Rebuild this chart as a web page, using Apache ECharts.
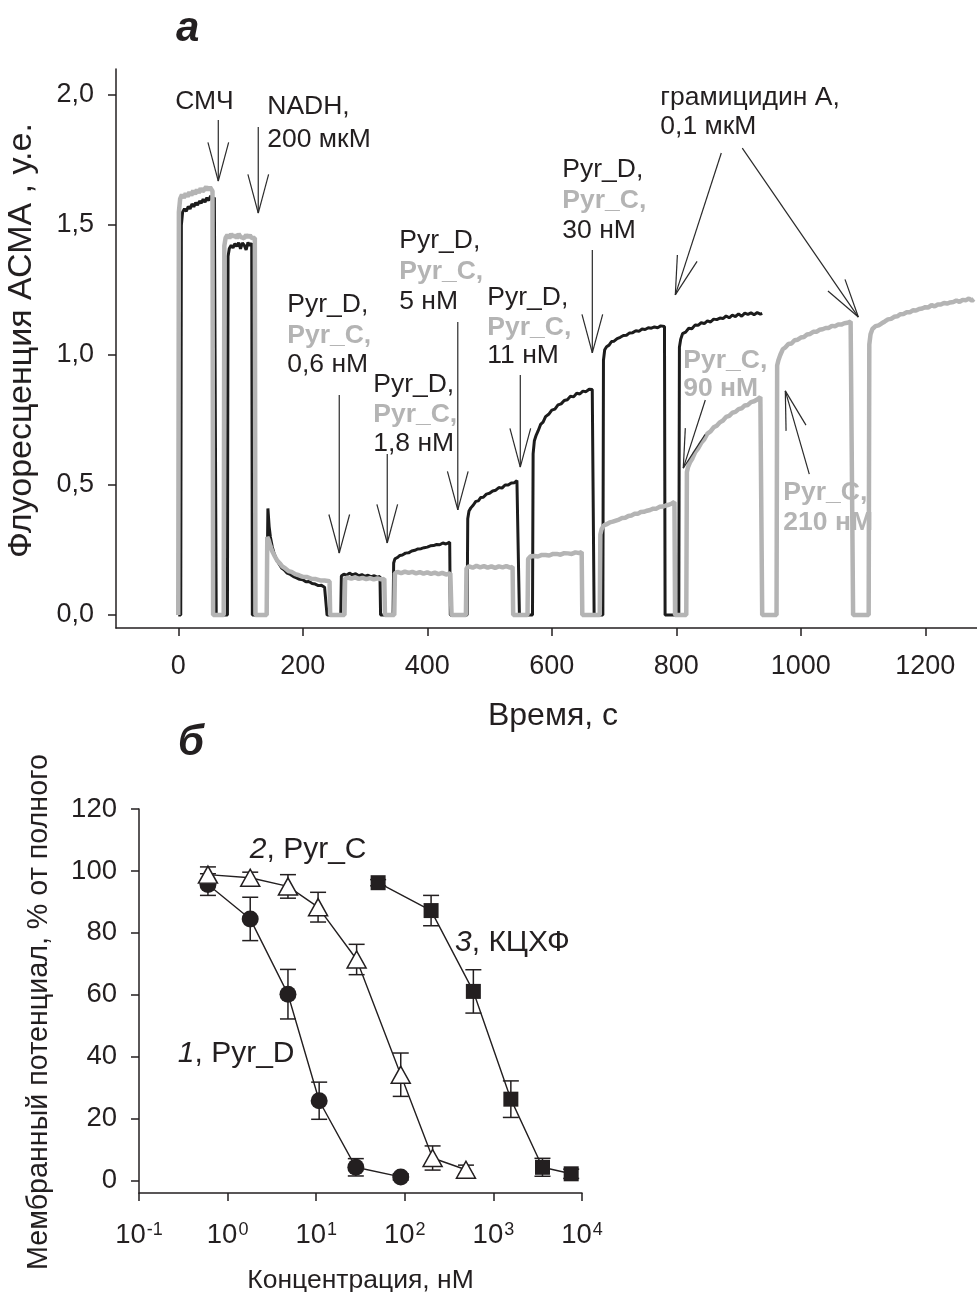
<!DOCTYPE html>
<html><head><meta charset="utf-8">
<script src="https://cdn.jsdelivr.net/npm/echarts@6/dist/echarts.min.js"></script>
<style>html,body{margin:0;padding:0;background:#fff}#c{width:977px;height:1292px}</style>
</head><body><div id="c"></div>
<script>
// ---------- Panel a: ACMA fluorescence traces (time s, value a.u.) ----------
const pyrDTrace = [[0,0],[4,0],[5,1.50],[7,1.55],[10,1.562],[13,1.553],[16,1.571],[19,1.562],[22,1.581],[25,1.570],[28,1.586],[31,1.576],[34,1.592],[37,1.584],[40,1.599],[43,1.588],[46,1.605],[49,1.594],[52,1.612],[55,1.598],[58,1.606],[60,1.60],[61,0],[79,0],[80,1.38],[82,1.41],[85,1.422],[88,1.412],[91,1.428],[94,1.418],[97,1.432],[100,1.408],[103,1.431],[106,1.422],[109,1.404],[112,1.433],[115,1.421],[118,1.43],[119,0],
[142,0],[144,0.41],[146,0.34],[148,0.30],[151,0.262],[154,0.236],[158,0.212],[162,0.196],[166,0.181],[170,0.174],[175,0.161],[180,0.156],[185,0.148],[190,0.143],[195,0.137],[200,0.136],[205,0.128],[210,0.129],[215,0.121],[220,0.119],[225,0.113],[230,0.114],[235,0.107],[238,0.106],[239,0],
[261,0],[262,0.15],[266,0.157],[270,0.153],[275,0.161],[280,0.154],[285,0.159],[290,0.151],[295,0.155],[300,0.149],[305,0.153],[310,0.147],[315,0.151],[320,0.145],[324,0.148],[325,0],
[345,0],[346,0.20],[348,0.216],[352,0.221],[356,0.229],[360,0.231],[365,0.238],[370,0.239],[375,0.246],[380,0.249],[385,0.254],[390,0.255],[395,0.259],[400,0.261],[405,0.266],[410,0.267],[415,0.271],[420,0.270],[425,0.277],[430,0.273],[436,0.28],[437,0],
[464,0],[465,0.37],[467,0.40],[470,0.412],[474,0.423],[478,0.437],[482,0.439],[486,0.452],[490,0.453],[495,0.465],[500,0.468],[505,0.477],[510,0.480],[515,0.490],[520,0.488],[525,0.500],[530,0.500],[535,0.508],[540,0.509],[544,0.517],[547,0.52],[548,0],
[569,0],[570,0.62],[572,0.67],[575,0.692],[578,0.708],[582,0.733],[586,0.742],[590,0.763],[595,0.772],[600,0.788],[605,0.792],[610,0.808],[615,0.812],[620,0.825],[625,0.828],[630,0.841],[635,0.839],[640,0.853],[645,0.850],[650,0.861],[655,0.859],[660,0.868],[665,0.867],[667,0.874],[668,0],
[682,0],[683,0.98],[685,1.02],[688,1.032],[692,1.038],[696,1.052],[700,1.053],[705,1.063],[710,1.068],[715,1.075],[720,1.076],[725,1.085],[730,1.086],[735,1.093],[740,1.091],[745,1.100],[750,1.098],[755,1.105],[760,1.103],[765,1.108],[770,1.105],[775,1.112],[781,1.11],[782,0],
[804,0],[805,1.03],[807,1.06],[810,1.082],[815,1.088],[820,1.103],[825,1.101],[830,1.115],[835,1.114],[840,1.124],[845,1.121],[850,1.131],[855,1.127],[860,1.138],[865,1.136],[870,1.142],[875,1.140],[880,1.150],[885,1.143],[890,1.153],[895,1.148],[900,1.158],[905,1.149],[910,1.161],[915,1.156],[920,1.162],[925,1.155],[930,1.163],[935,1.157],[938,1.16]];

const pyrCTrace = [[0,0],[1,1.55],[3,1.60],[6,1.617],[9,1.604],[12,1.622],[15,1.609],[18,1.627],[21,1.614],[24,1.632],[27,1.619],[30,1.636],[33,1.624],[36,1.641],[39,1.629],[42,1.637],[45,1.647],[48,1.634],[51,1.646],[54,1.64],[55,1.63],[56,0],[73,0],[74,1.42],[76,1.45],[79,1.462],[82,1.449],[85,1.466],[88,1.454],[91,1.462],[94,1.449],[97,1.466],[100,1.454],[103,1.461],[106,1.449],[109,1.462],[112,1.453],[115,1.461],[118,1.450],[121,1.456],[123,1.45],[124,0],
[142,0],[143,0.30],[145,0.29],[148,0.265],[151,0.245],[155,0.226],[159,0.209],[163,0.199],[167,0.187],[172,0.179],[177,0.169],[182,0.166],[188,0.157],[194,0.153],[200,0.147],[207,0.146],[214,0.139],[221,0.138],[228,0.133],[235,0.133],[243,0.13],[244,0],
[267,0],[268,0.14],[272,0.144],[278,0.140],[284,0.145],[290,0.139],[296,0.143],[302,0.138],[308,0.142],[314,0.137],[320,0.141],[326,0.137],[331,0.139],[332,0],
[347,0],[348,0.16],[352,0.166],[358,0.161],[364,0.167],[370,0.162],[376,0.166],[382,0.160],[388,0.165],[394,0.159],[400,0.164],[406,0.158],[412,0.163],[418,0.157],[424,0.162],[430,0.156],[437,0.16],[439,0],
[462,0],[463,0.18],[467,0.187],[473,0.182],[479,0.189],[485,0.183],[491,0.188],[497,0.182],[503,0.187],[509,0.181],[515,0.187],[521,0.183],[527,0.188],[533,0.182],[537,0.185],[538,0],
[561,0],[562,0.215],[566,0.226],[572,0.227],[578,0.225],[584,0.231],[590,0.231],[596,0.229],[602,0.235],[608,0.235],[614,0.232],[620,0.238],[626,0.237],[632,0.235],[638,0.241],[644,0.238],[648,0.242],[649,0],
[677,0],[678,0.31],[680,0.33],[684,0.346],[688,0.349],[693,0.356],[698,0.359],[703,0.363],[708,0.367],[713,0.373],[718,0.374],[723,0.381],[728,0.383],[733,0.389],[738,0.389],[743,0.396],[748,0.397],[753,0.401],[758,0.404],[763,0.409],[768,0.409],[773,0.416],[778,0.417],[783,0.421],[788,0.424],[793,0.429],[797,0.435],[798,0],
[816,0],[817,0.55],[819,0.57],[822,0.587],[826,0.603],[830,0.625],[835,0.641],[840,0.662],[845,0.676],[850,0.698],[855,0.706],[860,0.722],[865,0.728],[870,0.741],[875,0.748],[880,0.762],[885,0.766],[890,0.778],[895,0.781],[900,0.792],[905,0.795],[910,0.806],[915,0.808],[920,0.819],[925,0.822],[930,0.829],[935,0.838],[937,0.84],[938,0],
[961,0],[962,0.96],[964,0.98],[967,1.0],[971,1.022],[975,1.029],[980,1.042],[985,1.044],[990,1.057],[995,1.059],[1000,1.067],[1005,1.069],[1010,1.079],[1015,1.081],[1020,1.089],[1025,1.089],[1030,1.097],[1035,1.099],[1040,1.104],[1045,1.104],[1050,1.112],[1055,1.111],[1060,1.117],[1065,1.117],[1070,1.122],[1075,1.124],[1080,1.129],[1083,1.13],[1084,0],
[1109,0],[1110,1.04],[1112,1.08],[1115,1.10],[1120,1.111],[1125,1.114],[1130,1.122],[1135,1.129],[1140,1.137],[1145,1.139],[1150,1.147],[1155,1.149],[1160,1.157],[1165,1.158],[1170,1.164],[1175,1.164],[1180,1.172],[1185,1.171],[1190,1.177],[1195,1.179],[1200,1.184],[1205,1.183],[1210,1.192],[1215,1.187],[1220,1.194],[1225,1.194],[1230,1.200],[1235,1.198],[1240,1.202],[1245,1.204],[1250,1.210],[1255,1.204],[1260,1.212],[1265,1.211],[1270,1.217],[1275,1.209],[1278,1.215]];

const topXTicks = [0,200,400,600,800,1000,1200];
const topXLabels = ['0','200','400','600','800','1000','1200'];
const topYTicks = [0,0.5,1,1.5,2];
const topYLabels = ['0,0','0,5','1,0','1,5','2,0'];

// annotation arrows: [tail t, tail v, tip t, tip v]
const arrows = [[64.3,1.904,64.3,1.669],[128.5,1.877,128.5,1.546],[258.6,0.846,258.6,0.238],[335.7,0.619,335.7,0.277],[449.0,1.127,449.0,0.404],[549.4,0.923,549.4,0.569],[665.1,1.404,665.1,1.008],[872.3,1.777,798.4,1.231],[906.0,1.796,1092.4,1.146],[846.6,0.827,811.2,0.565],[1013.6,0.542,975.1,0.862]];
// annotation text lines: text, left t, centre v, gray(1)/black(0)
const annoText = ['СМЧ','NADH,','200 мкМ','Pyr_D,','Pyr_C,','0,6 нМ','Pyr_D,','Pyr_C,','1,8 нМ','Pyr_D,','Pyr_C,','5 нМ','Pyr_D,','Pyr_C,','11 нМ','Pyr_D,','Pyr_C,','30 нМ','грамицидин А,','0,1 мкМ','Pyr_C,','90 нМ','Pyr_C,','210 нМ'];
const annoT = [-4.8,143.0,143.0,175.1,175.1,175.1,313.2,313.2,313.2,355.0,355.0,355.0,496.4,496.4,496.4,616.9,616.9,616.9,774.3,774.3,811.2,811.2,971.9,971.9];
const annoV = [1.975,1.956,1.829,1.192,1.073,0.962,0.887,0.769,0.660,1.438,1.321,1.206,1.221,1.106,0.996,1.712,1.592,1.477,1.990,1.879,0.977,0.869,0.471,0.356];
const annoGray = [0,0,0,0,1,0,0,1,0,0,1,0,0,1,0,0,1,0,0,0,1,1,1,1];

// ---------- Panel b: membrane potential vs concentration ----------
const concD = [0.6,1.8,4.8,10.8,28,90];
const valD = [95.6,84.5,60.2,25.8,4.3,1.2];
const errD = [3.5,7,8,6,2.8,1];
const concC = [0.6,1.8,4.8,10.5,28.6,90,206,490];
const valC = [98.8,97.8,95,88.3,71.4,34.2,7.3,3.5];
const errC = [2.5,1.8,3.8,4.8,4.9,7,3.9,1.5];
const concK = [50,198,594,1574,3580,7550];
const valK = [96.2,87.2,61.1,26.3,4.3,2.2];
const errK = [1,4.9,7,5.9,2.9,1.5];
const botXTicks = [0.1,1,10,100,1000,10000];
const botXExp = ['-1','0','1','2','3','4'];
const botYTicks = [0,20,40,60,80,100,120];
const curveLabels = [['2',', Pyr_C'],['3',', КЦХФ'],['1',', Pyr_D']];
const curveLabelPos = [[1.78,106.8],[369,76.8],[0.274,41]];

// ---------- styles ----------
const FONT = 'Liberation Sans, Arial, sans-serif';
const INK = '#231f20';
const GRAY = '#b4b4b4';
const FS_ANNO = 26.5, FS_TOPTICK = 27, FS_TOPTITLE = 32, FS_TOPYTITLE = 34;
const FS_BOTTICK = 27.5, FS_BOTLAB = 30, FS_BOTYTITLE = 28.7, FS_BOTXTITLE = 26.5;

function nearestLabel(v, ticks, labels){
  let best = 0, bd = Infinity;
  ticks.forEach((t,i)=>{const d=Math.abs(t-v); if(d<bd){bd=d;best=i;}});
  return labels[best];
}

const axisCommon = {
  axisLine:{show:true,onZero:false,lineStyle:{color:INK,width:1.5}},
  axisTick:{show:true,inside:false,length:8,lineStyle:{color:INK,width:1.5}},
  splitLine:{show:false}
};

const pairs = (xs,ys)=>xs.map((x,i)=>[x,ys[i]]);
const errData = (xs,ys,es)=>xs.map((x,i)=>[x,ys[i],es[i]]);

const chart = echarts.init(document.getElementById('c'),null,{renderer:'canvas'});
chart.setOption({
  animation:false,
  backgroundColor:'#fff',
  grid:[
    {left:116,right:0,top:69,bottom:664,containLabel:false,outerBoundsMode:'none'},
    {left:139,width:443,top:809,height:384,containLabel:false,outerBoundsMode:'none'}
  ],
  xAxis:[
    Object.assign({},axisCommon,{gridIndex:0,type:'value',min:-100,max:1283,
      axisTick:Object.assign({},axisCommon.axisTick,{customValues:topXTicks}),
      axisLabel:{customValues:topXTicks,fontFamily:FONT,fontSize:FS_TOPTICK,color:INK,margin:25,
        formatter:(v)=>nearestLabel(v,topXTicks,topXLabels)},
      name:'Время, с',nameLocation:'middle',nameGap:72,
      nameTextStyle:{fontFamily:FONT,fontSize:FS_TOPTITLE,color:INK,padding:[0,0,0,13]}}),
    Object.assign({},axisCommon,{gridIndex:1,type:'log',logBase:10,min:0.1,max:10000,
      axisTick:Object.assign({},axisCommon.axisTick,{customValues:botXTicks}),
      axisLabel:{customValues:botXTicks,fontFamily:FONT,fontSize:FS_BOTTICK,color:INK,margin:28,
        formatter:(v)=>'10{sup|'+nearestLabel(Math.log10(v),[-1,0,1,2,3,4],botXExp)+'}',
        rich:{sup:{fontFamily:FONT,fontSize:18,color:INK,verticalAlign:'top',padding:[0,0,10,1]}}},
      name:'Концентрация, нМ',nameLocation:'middle',nameGap:74,
      nameTextStyle:{fontFamily:FONT,fontSize:FS_BOTXTITLE,color:INK}})
  ],
  yAxis:[
    Object.assign({},axisCommon,{gridIndex:0,type:'value',min:-0.05,max:2.1,
      axisTick:Object.assign({},axisCommon.axisTick,{customValues:topYTicks}),
      axisLabel:{customValues:topYTicks,fontFamily:FONT,fontSize:FS_TOPTICK,color:INK,margin:22,
        formatter:(v)=>nearestLabel(v,topYTicks,topYLabels)},
      name:'Флуоресценция АСМА , у.е.',nameLocation:'middle',nameGap:77,
      nameTextStyle:{fontFamily:FONT,fontSize:FS_TOPYTITLE,color:INK,padding:[0,0,0,16]}}),
    Object.assign({},axisCommon,{gridIndex:1,type:'value',min:-4,max:120,
      axisTick:Object.assign({},axisCommon.axisTick,{customValues:botYTicks}),
      axisLabel:{customValues:botYTicks,fontFamily:FONT,fontSize:FS_BOTTICK,color:INK,margin:22},
      name:'Мембранный потенциал, % от полного',nameLocation:'middle',nameGap:85,
      nameTextStyle:{fontFamily:FONT,fontSize:FS_BOTYTITLE,color:INK,padding:[0,22,0,0]}})
  ],
  graphic:[
    {type:'text',left:176,top:8,style:{text:'а',font:'italic bold 42px '+FONT,fill:INK}},
    {type:'text',left:178,top:722,style:{text:'б',font:'italic bold 42px '+FONT,fill:INK}}
  ],
  series:[
    {type:'line',name:'Pyr_D',xAxisIndex:0,yAxisIndex:0,data:pyrDTrace,showSymbol:false,
      lineStyle:{color:'#1c1c1c',width:3},z:2},
    {type:'line',name:'Pyr_C',xAxisIndex:0,yAxisIndex:0,data:pyrCTrace,showSymbol:false,
      lineStyle:{color:GRAY,width:4.5},z:3},
    {type:'custom',name:'arrows',xAxisIndex:0,yAxisIndex:0,data:arrows,z:5,
      encode:{x:[0,2],y:[1,3]},
      renderItem:(params,api)=>{
        const a = api.coord([api.value(0),api.value(1)]);
        const b = api.coord([api.value(2),api.value(3)]);
        let dx=a[0]-b[0], dy=a[1]-b[1]; const L=Math.hypot(dx,dy); dx/=L; dy/=L;
        const th=15*Math.PI/180, al=40;
        const arm=(s)=>{const c=Math.cos(s*th), sn=Math.sin(s*th);
          return [b[0]+al*(dx*c-dy*sn), b[1]+al*(dx*sn+dy*c)];};
        const p=arm(1), q=arm(-1);
        const st={stroke:'#2a2a2a',lineWidth:1.2};
        return {type:'group',children:[
          {type:'line',shape:{x1:a[0],y1:a[1],x2:b[0],y2:b[1]},style:st},
          {type:'line',shape:{x1:p[0],y1:p[1],x2:b[0],y2:b[1]},style:st},
          {type:'line',shape:{x1:q[0],y1:q[1],x2:b[0],y2:b[1]},style:st}
        ]};
      }},
    {type:'custom',name:'annotations',xAxisIndex:0,yAxisIndex:0,z:6,
      data:annoText.map((s,i)=>[annoT[i],annoV[i],i]),
      renderItem:(params,api)=>{
        const i=api.value(2); const p=api.coord([api.value(0),api.value(1)]);
        const g=annoGray[i]===1;
        return {type:'text',x:p[0],y:p[1],style:{text:annoText[i],
          font:(g?'bold ':'')+FS_ANNO+'px '+FONT,fill:g?GRAY:INK,
          align:'left',verticalAlign:'middle',textAlign:'left',textVerticalAlign:'middle'}};
      }},
    {type:'custom',name:'errors',xAxisIndex:1,yAxisIndex:1,z:1,
      data:[].concat(errData(concD,valD,errD),errData(concC,valC,errC),errData(concK,valK,errK)),
      encode:{x:0,y:1},
      renderItem:(params,api)=>{
        const x=api.value(0), y=api.value(1), e=api.value(2);
        const t=api.coord([x,y+e]), b=api.coord([x,y-e]); const h=8;
        const st={stroke:INK,lineWidth:1.5};
        return {type:'group',children:[
          {type:'line',shape:{x1:t[0],y1:t[1],x2:b[0],y2:b[1]},style:st},
          {type:'line',shape:{x1:t[0]-h,y1:t[1],x2:t[0]+h,y2:t[1]},style:st},
          {type:'line',shape:{x1:b[0]-h,y1:b[1],x2:b[0]+h,y2:b[1]},style:st}
        ]};
      }},
    {type:'line',name:'1, Pyr_D',xAxisIndex:1,yAxisIndex:1,data:pairs(concD,valD),z:3,
      symbol:'circle',symbolSize:17,lineStyle:{color:INK,width:1.4},itemStyle:{color:INK}},
    {type:'line',name:'2, Pyr_C',xAxisIndex:1,yAxisIndex:1,data:pairs(concC,valC),z:3,
      symbol:'triangle',symbolSize:[19,17],lineStyle:{color:INK,width:1.4},
      itemStyle:{color:'#fff',borderColor:INK,borderWidth:1.5}},
    {type:'line',name:'3, КЦХФ',xAxisIndex:1,yAxisIndex:1,data:pairs(concK,valK),z:3,
      symbol:'rect',symbolSize:15,lineStyle:{color:INK,width:1.4},itemStyle:{color:INK}},
    {type:'custom',name:'curveLabels',xAxisIndex:1,yAxisIndex:1,z:6,
      data:curveLabelPos.map((p,i)=>[p[0],p[1],i]),
      renderItem:(params,api)=>{
        const i=api.value(2); const p=api.coord([api.value(0),api.value(1)]);
        return {type:'text',x:p[0],y:p[1],style:{text:'{i|'+curveLabels[i][0]+'}{n|'+curveLabels[i][1]+'}',
          rich:{i:{fontFamily:FONT,fontSize:FS_BOTLAB,fontStyle:'italic',fill:INK,color:INK},
                n:{fontFamily:FONT,fontSize:FS_BOTLAB,fill:INK,color:INK}},
          font:FS_BOTLAB+'px '+FONT,fill:INK,
          align:'left',verticalAlign:'middle',textAlign:'left',textVerticalAlign:'middle'}};
      }}
  ]
});
</script></body></html>
